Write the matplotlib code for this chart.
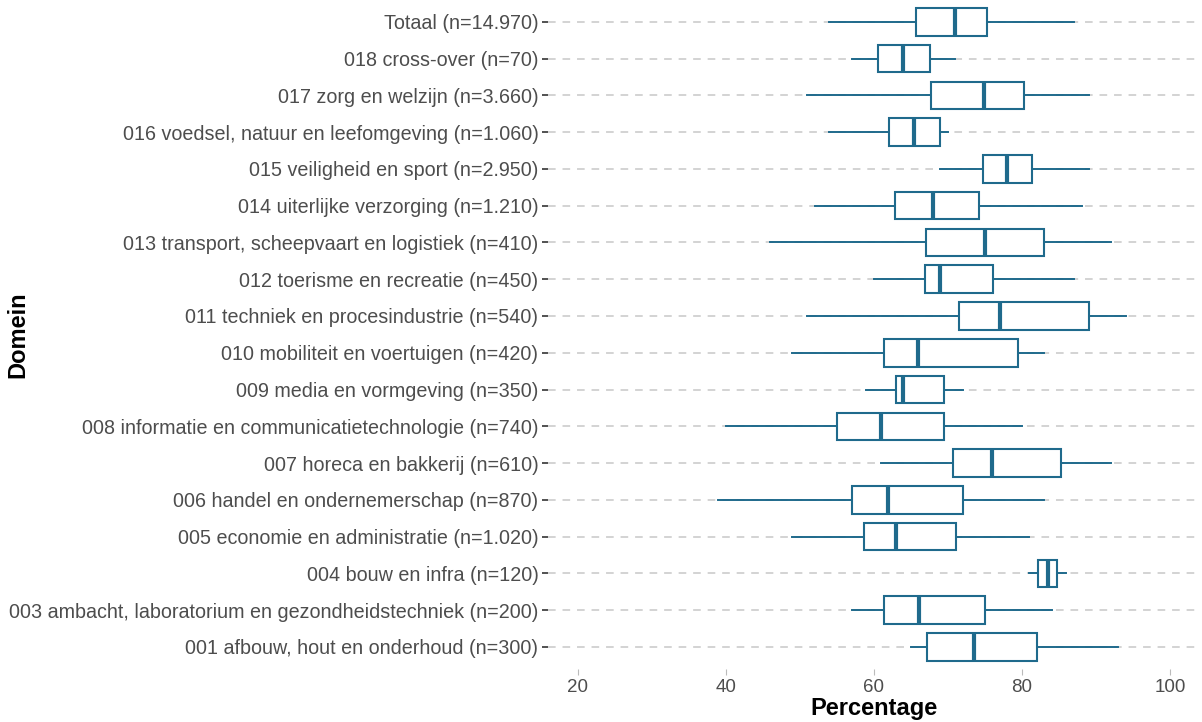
import matplotlib
matplotlib.use("Agg")
import matplotlib.pyplot as plt

plt.rcParams['font.family'] = ['Liberation Sans', 'DejaVu Sans']

# categories from bottom to top
labels = [
    "001 afbouw, hout en onderhoud (n=300)",
    "003 ambacht, laboratorium en gezondheidstechniek (n=200)",
    "004 bouw en infra (n=120)",
    "005 economie en administratie (n=1.020)",
    "006 handel en ondernemerschap (n=870)",
    "007 horeca en bakkerij (n=610)",
    "008 informatie en communicatietechnologie (n=740)",
    "009 media en vormgeving (n=350)",
    "010 mobiliteit en voertuigen (n=420)",
    "011 techniek en procesindustrie (n=540)",
    "012 toerisme en recreatie (n=450)",
    "013 transport, scheepvaart en logistiek (n=410)",
    "014 uiterlijke verzorging (n=1.210)",
    "015 veiligheid en sport (n=2.950)",
    "016 voedsel, natuur en leefomgeving (n=1.060)",
    "017 zorg en welzijn (n=3.660)",
    "018 cross-over (n=70)",
    "Totaal (n=14.970)",
]

# five number summaries (percentage)
whis_lo = [65.0, 57.0, 81.0, 49.0, 39.0, 61.0, 40.0, 59.0, 49.0, 51.0, 60.0, 46.0, 52.0, 69.0, 54.0, 51.0, 57.0, 54.0]
q1      = [67.2, 61.4, 82.2, 58.7, 57.0, 70.7, 55.0, 63.0, 61.4, 71.5, 66.9, 67.0, 62.8, 74.7, 62.0, 67.7, 60.5, 65.7]
median  = [73.5, 66.1, 83.5, 63.0, 61.9, 75.9, 60.9, 64.0, 66.0, 77.0, 69.0, 75.0, 68.0, 78.0, 65.4, 74.9, 64.0, 71.0]
q3      = [82.1, 75.0, 84.8, 71.1, 72.1, 85.3, 69.5, 69.5, 79.5, 89.0, 76.1, 83.0, 74.2, 81.3, 69.0, 80.3, 67.6, 75.3]
whis_hi = [93.0, 84.0, 86.0, 80.9, 83.0, 92.0, 80.0, 72.0, 83.0, 94.0, 87.0, 92.0, 88.1, 89.0, 70.0, 89.0, 70.9, 87.0]

color = "#1f6a8c"

stats = []
for i in range(len(labels)):
    stats.append({"whislo": whis_lo[i], "q1": q1[i], "med": median[i],
                  "q3": q3[i], "whishi": whis_hi[i], "fliers": []})

fig = plt.figure(figsize=(12.02, 7.22), dpi=100)
ax = fig.add_axes([0.456, 0.0734, 0.542, 0.927])

positions = list(range(1, len(labels) + 1))

# dashed horizontal grid behind boxes
for p in positions:
    ax.axhline(p, color="#c8c8c8", linewidth=1.1, linestyle=(0, (5, 4.5)), zorder=0)

ax.bxp(stats, positions=positions, vert=False, widths=0.75, showfliers=False,
       showcaps=False, patch_artist=True,
       boxprops=dict(facecolor="white", edgecolor=color, linewidth=1.5),
       medianprops=dict(color=color, linewidth=3, solid_capstyle="butt"),
       whiskerprops=dict(color=color, linewidth=1.4))

ax.set_xlim(16, 104)
ax.set_ylim(0.4, len(labels) + 0.6)
ax.set_xticks([20, 40, 60, 80, 100])
ax.set_yticks(positions)
ax.set_yticklabels(labels)

for s in ax.spines.values():
    s.set_visible(False)

ax.tick_params(axis="y", length=4, width=1.2, color="#333333", labelsize=14.2,
               labelcolor="#4d4d4d", pad=3)
ax.tick_params(axis="x", length=4, width=0.8, color="#bbbbbb", labelsize=13.5,
               labelcolor="#4d4d4d", pad=3)

ax.set_xlabel("Percentage", fontsize=17, fontweight="bold", color="black", labelpad=1)
ax.set_ylabel("Domein", fontsize=17, fontweight="bold", color="black")
# the y label sits at the far left, under the long tick labels
ax.yaxis.set_label_coords(-0.797, 0.5)

fig.savefig("out.png", dpi=100)
